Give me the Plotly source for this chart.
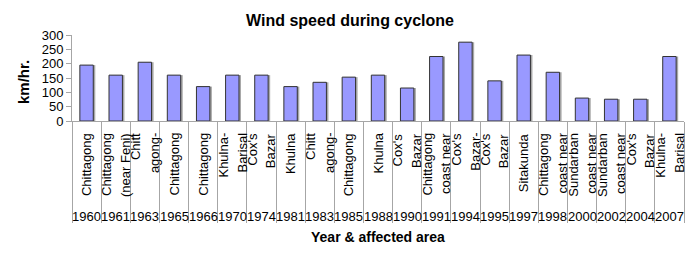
import plotly.graph_objects as go

years = ["1960", "1961", "1963", "1965", "1966", "1970", "1974", "1981", "1983", "1985", "1988",
         "1990", "1991", "1994", "1995", "1997", "1998", "2000", "2002", "2004", "2007"]
areas = ["Chittagong", "Chittagong<br>(near Feni)", "Chitt<br>agong-", "Chittagong", "Chittagong",
         "Khulna-<br>Barisal", "Cox's<br>Bazar", "Khulna", "Chitt<br>agong-", "Chittagong", "Khulna",
         "Cox's<br>Bazar", "Chittagong<br>coast near", "Cox's<br>Bazar-", "Cox's<br>Bazar", "Sitakunda",
         "Chittagong<br>coast near", "Sundarban<br>coast near", "Sundarban<br>coast near",
         "Cox's<br>Bazar", "Khulna-<br>Barisal"]
wind_speed = [195, 160, 205, 160, 120, 160, 160, 120, 135, 153, 160,
              115, 225, 275, 140, 230, 170, 80, 76, 76, 225]
y_ticks = [0, 50, 100, 150, 200, 250, 300]

FONT = "Liberation Sans, Arial, sans-serif"
GRID = "#A6A6A6"
BAR_W = 0.46

fig = go.Figure()
# shadow
fig.add_trace(go.Bar(x=years, y=wind_speed, width=BAR_W, offset=-BAR_W / 2 + 0.07,
                     marker=dict(color="#A8A8A8", line=dict(width=0)), hoverinfo="skip"))
fig.add_trace(go.Bar(x=years, y=wind_speed, width=BAR_W, offset=-BAR_W / 2,
                     marker=dict(color="#9999FF", line=dict(color="#333333", width=1))))

annotations = []
LINE_SP = 18.5
for idx, (yr, area) in enumerate(zip(years, areas)):
    lines = area.split("<br>")
    n = len(lines)
    for i, ln in enumerate(lines):
        annotations.append(dict(
            x=idx, xref="x", y=0, yref="paper", yanchor="top", xanchor="center",
            yshift=-10, xshift=(i - (n - 1) / 2) * LINE_SP, textangle=-90,
            text=ln, showarrow=False, font=dict(family=FONT, size=13, color="black")))
    annotations.append(dict(
        x=idx, xref="x", y=0, yref="paper", yanchor="middle", xanchor="center",
        yshift=-95, text=yr, showarrow=False, font=dict(family=FONT, size=13, color="black")))

annotations.append(dict(x=0.5, xref="paper", y=0, yref="paper", yanchor="middle", xanchor="center",
                        yshift=-116, text="Year & affected area", showarrow=False,
                        font=dict(family=FONT, size=14, color="black", weight="bold")))
annotations.append(dict(x=0, xref="paper", y=0.5, yref="paper", yanchor="middle", xanchor="center",
                        xshift=-49, yshift=-4, text="km/hr.", textangle=-90, showarrow=False,
                        font=dict(family=FONT, size=15, color="black", weight="bold")))

fig.update_layout(
    width=700, height=261,
    margin=dict(l=72, r=16, t=35, b=140, autoexpand=False),
    paper_bgcolor="white", plot_bgcolor="white",
    barmode="overlay", showlegend=False, hovermode=False,
    title=dict(text="Wind speed during cyclone", x=0.5, xref="container", xanchor="center",
               y=1 - 20 / 261, yref="container", yanchor="middle",
               font=dict(family=FONT, size=16, color="black", weight="bold")),
    xaxis=dict(type="category", categoryorder="array", categoryarray=years,
               range=[-0.5, len(years) - 0.5],
               showticklabels=False, tickson="boundaries", ticks="outside", ticklen=101,
               tickcolor=GRID, tickwidth=1, showline=True, linecolor=GRID, linewidth=1,
               showgrid=False, zeroline=False),
    yaxis=dict(range=[0, 300], tickvals=y_ticks, ticks="outside", ticklen=5, tickcolor=GRID,
               showline=True, linecolor=GRID, linewidth=1, showgrid=False, zeroline=False,
               tickfont=dict(family=FONT, size=13, color="black")),
    annotations=annotations,
)

fig.write_html("out.html", config={"displayModeBar": False},
               post_script="document.body.style.margin='0';document.body.style.overflow='hidden';")
